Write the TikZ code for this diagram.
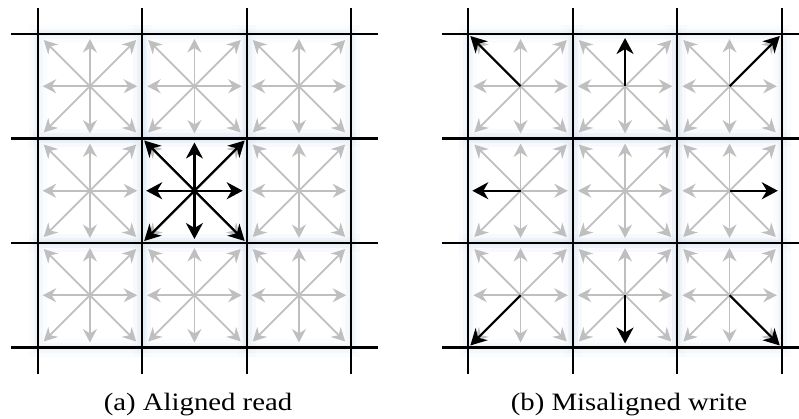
\documentclass[tikz,border=0pt]{standalone}
\usepackage{fontspec}
\setmainfont{Liberation Serif}
\usetikzlibrary{arrows.meta}
\definecolor{gridgray}{RGB}{191,191,191}
\definecolor{glowblue}{RGB}{214,226,238}

\begin{document}
\begin{tikzpicture}[x=1pt, y=-1pt,
  gridline/.style={line width=2.2pt, black},
  grayarrow/.style={-{Stealth[length=13.5pt, width=14pt, inset=4.5pt]}, gridgray, line width=1.8pt},
  blackarrow/.style={-{Stealth[length=16pt, width=17pt, inset=5pt]}, black, line width=2.2pt},
  caption/.style={font=\fontsize{25}{30}\selectfont, anchor=base}]
  \useasboundingbox (0,0) rectangle (799,419);
  \clip (0,0) rectangle (799,419);
  % two 3x3 grids: name / left edge
  \foreach \g/\xo in {a/37.7, b/468.3} {
    % soft glow round every cell
    \foreach \i in {0,1,2} \foreach \j in {0,1,2} {
      \foreach \w/\o in {18/0.1, 10/0.16, 5/0.24}
        \draw[glowblue, line width=\w pt, opacity=\o]
          ({\xo+\i*104.5},{34+\j*104.5}) rectangle ++(104.5,104.5);
    }
    % cell centres and the eight grey directions
    \foreach \i in {0,1,2} \foreach \j in {0,1,2} {
      \coordinate (\g\i\j) at ({\xo+\i*104.5+52.25},{34+\j*104.5+52.25});
      \foreach \dx/\dy in {0/-47.25, 0/47.25, -47.25/0, 47.25/0,
                           -46.25/-46.25, 46.25/-46.25, -46.25/46.25, 46.25/46.25}
        \draw[grayarrow] (\g\i\j) -- ++(\dx,\dy);
    }
    % grid lines
    \foreach \k in {0,1,2,3} {
      \draw[gridline] ({\xo+\k*104.5},8) -- ({\xo+\k*104.5},374);
      \draw[gridline] ({\xo-26.5},{34+\k*104.5}) -- ({\xo+340},{34+\k*104.5});
    }
  }
  % (a) aligned read: all directions of the middle cell
  \foreach \dx/\dy in {0/-48.25, 0/48.25, -48.25/0, 48.25/0,
                       -50.25/-50.25, 50.25/-50.25, -50.25/50.25, 50.25/50.25}
    \draw[blackarrow] (a11) -- ++(\dx,\dy);
  % (b) misaligned write: one direction per outer cell
  \foreach \c/\dx/\dy in {b00/-50.25/-50.25, b10/0/-48.25, b20/50.25/-50.25,
                          b01/-48.25/0, b21/48.25/0,
                          b02/-50.25/50.25, b12/0/48.25, b22/50.25/50.25}
    \draw[blackarrow] (\c) -- ++(\dx,\dy);
  % captions
  \node[caption] (capa) at (198,410) {\scalebox{1.15}[1]{(a) Aligned read}};
  \node[caption] (capb) at (629,410) {\scalebox{1.15}[1]{(b) Misaligned write}};
\end{tikzpicture}
\end{document}
